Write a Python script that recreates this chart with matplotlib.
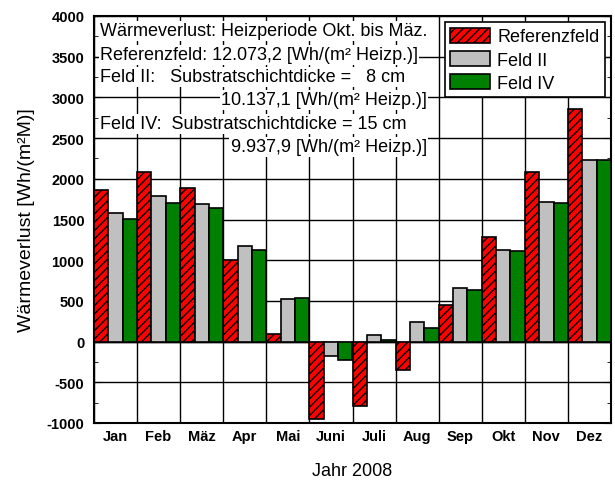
import numpy as np
import matplotlib.pyplot as plt

months = ['Jan', 'Feb', 'Mäz', 'Apr', 'Mai', 'Juni', 'Juli', 'Aug', 'Sep', 'Okt', 'Nov', 'Dez']
referenzfeld = [1862, 2083, 1883, 1006, 93, -955, -791, -345, 450, 1285, 2080, 2857]
feld_ii = [1576, 1785, 1686, 1171, 527, -173, 85, 241, 655, 1129, 1711, 2231]
feld_iv = [1510, 1706, 1637, 1121, 539, -230, 15, 167, 638, 1117, 1703, 2235]

info_lines = [
    ('Wärmeverlust: Heizperiode Okt. bis Mäz.', 'left'),
    ('Referenzfeld: 12.073,2 [Wh/(m² Heizp.)]', 'left'),
    ('Feld II:   Substratschichtdicke =   8 cm', 'left'),
    ('10.137,1 [Wh/(m² Heizp.)]', 'right'),
    ('Feld IV:  Substratschichtdicke = 15 cm', 'left'),
    ('9.937,9 [Wh/(m² Heizp.)]', 'right'),
]

plt.rcParams['font.family'] = ['Liberation Sans', 'DejaVu Sans']
plt.rcParams['hatch.linewidth'] = 1.0
plt.rcParams['axes.unicode_minus'] = False

fig = plt.figure(figsize=(6.15, 4.81), dpi=100)
ax = fig.add_axes([94 / 615, 57 / 481, 517 / 615, 407 / 481])

x = np.arange(len(months))
w = 1 / 3
ax.bar(x - w, referenzfeld, w, color='#ff0000', edgecolor='black', hatch='////',
       linewidth=1.2, label='Referenzfeld', zorder=3)
ax.bar(x, feld_ii, w, color='#c0c0c0', edgecolor='black', linewidth=1.2,
       label='Feld II', zorder=3)
ax.bar(x + w, feld_iv, w, color='#008000', edgecolor='black', linewidth=1.2,
       label='Feld IV', zorder=3)

ax.set_xlim(-0.5, len(months) - 0.5)
ax.set_ylim(-1000, 4000)
ax.set_xticks(x)
ax.set_xticklabels(months, fontweight='bold', fontsize=10.5)
ax.set_xticks(np.arange(-0.5, len(months)), minor=True)
ax.tick_params(axis='x', which='major', length=0, pad=4)
ax.tick_params(axis='x', which='minor', direction='in', top=True, length=4)

ax.set_yticks(np.arange(-1000, 4001, 500))
ax.set_yticks(np.arange(-1000, 4001, 250), minor=True)
ax.tick_params(axis='y', which='both', direction='in', right=True)
ax.tick_params(axis='y', which='major', length=5, labelsize=10.5, pad=7)
ax.tick_params(axis='y', which='minor', length=3)
for lab in ax.get_yticklabels():
    lab.set_fontweight('bold')

ax.grid(True, axis='x', which='minor', color='black', linewidth=1.0, zorder=0)
ax.grid(True, axis='y', which='major', color='black', linewidth=1.0, zorder=0)
ax.axhline(0, color='black', linewidth=1.0, zorder=2)
for s in ax.spines.values():
    s.set_linewidth(1.5)

ax.set_ylabel('Wärmeverlust [Wh/(m²M)]', fontsize=14, labelpad=8)
ax.set_xlabel('Jahr 2008', fontsize=13, labelpad=14)

ys = [32, 56, 78, 101, 125, 148]
for (txt, ha), yp in zip(info_lines, ys):
    xp = 100 if ha == 'left' else 427
    fig.text(xp / 615, 1 - yp / 481, txt, ha=ha, va='center', fontsize=13,
             zorder=5, bbox=dict(facecolor='white', edgecolor='none', pad=1.0))

leg = ax.legend(loc='upper right', fontsize=13, frameon=True, fancybox=False,
                framealpha=1, edgecolor='black', borderaxespad=0.35,
                handlelength=2.2, handleheight=0.9, labelspacing=0.3,
                handletextpad=0.4, borderpad=0.3)
leg.get_frame().set_linewidth(1.2)
leg.set_zorder(6)

fig.savefig('out.png', dpi=100)
